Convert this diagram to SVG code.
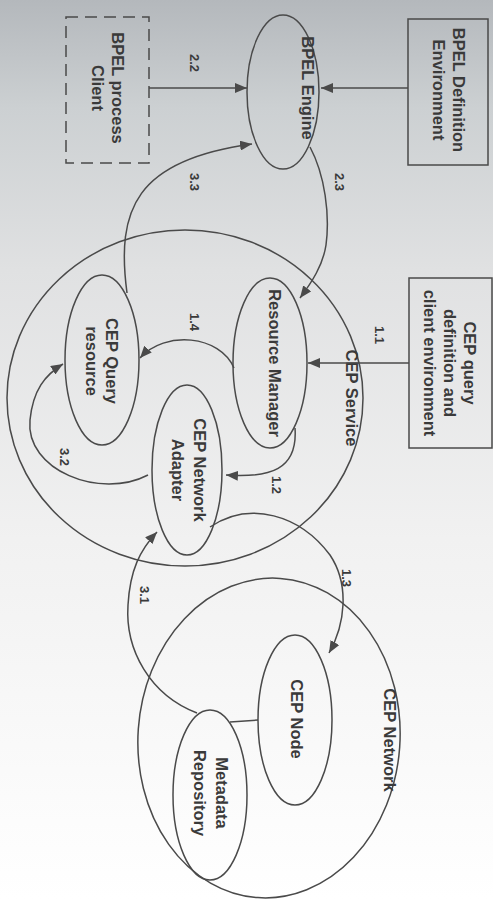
<svg xmlns="http://www.w3.org/2000/svg" width="493" height="899" viewBox="0 0 493 899">
<defs>
<linearGradient id="bg" x1="0" y1="0" x2="0" y2="1">
<stop offset="0" stop-color="#b4b8bc"/>
<stop offset="0.12" stop-color="#ccd0d2"/>
<stop offset="0.3" stop-color="#e0e1e2"/>
<stop offset="0.6" stop-color="#f1f1f1"/>
<stop offset="1" stop-color="#ffffff"/>
</linearGradient>
<marker id="ah" viewBox="0 0 12 10" refX="12" refY="5" markerWidth="12" markerHeight="10" markerUnits="userSpaceOnUse" orient="auto">
<path d="M0,0 L12,5 L0,10 Z" fill="#4a4a4a"/>
</marker>
<style>
.sh{fill:none;stroke:#4a4a4a;stroke-width:1.5}
.dash{fill:none;stroke:#4a4a4a;stroke-width:1.5;stroke-dasharray:12,7}
.t{font-family:"Liberation Sans",Arial,sans-serif;font-weight:bold;font-size:16.5px;fill:#3a3a3a;text-anchor:middle}
.l{font-family:"Liberation Sans",Arial,sans-serif;font-weight:bold;font-size:13px;fill:#3a3a3a;text-anchor:middle}
.c{fill:none;stroke:#4a4a4a;stroke-width:1.5;marker-end:url(#ah)}
.cn{fill:none;stroke:#4a4a4a;stroke-width:1.5}
</style>
</defs>
<rect x="0" y="0" width="493" height="899" fill="url(#bg)"/>

<g id="cep-service">
<ellipse class="sh" cx="185" cy="398" rx="178" ry="168"/>
<text class="t" transform="translate(352,398) rotate(90)" dy="0.35em">CEP Service</text>
</g>
<g id="cep-network">
<ellipse class="sh" cx="269" cy="738" rx="131" ry="160" transform="rotate(4 269 738)"/>
<text class="t" transform="translate(390,740) rotate(90)" dy="0.35em">CEP Network</text>
</g>

<g id="bpel-definition-environment">
<rect class="sh" x="408" y="19" width="80" height="146"/>
<text class="t" transform="translate(449,90) rotate(90)"><tspan x="0" y="-10" dy="0.35em">BPEL Definition</tspan><tspan x="0" y="10" dy="0.35em">Environment</tspan></text>
</g>
<g id="bpel-engine">
<ellipse class="sh" cx="283" cy="92" rx="36" ry="77"/>
<text class="t" transform="translate(308,88) rotate(90)" dy="0.35em">BPEL Engine</text>
</g>
<g id="bpel-process-client">
<rect class="dash" x="66" y="17" width="83" height="146"/>
<text class="t" transform="translate(108,88) rotate(90)"><tspan x="0" y="-10" dy="0.35em">BPEL process</tspan><tspan x="0" y="10" dy="0.35em">Client</tspan></text>
</g>
<g id="cep-query-definition">
<rect class="sh" x="409" y="278" width="83" height="170"/>
<text class="t" transform="translate(450,363) rotate(90)"><tspan x="0" y="-20" dy="0.35em">CEP query</tspan><tspan x="0" y="0" dy="0.35em">definition and</tspan><tspan x="0" y="20" dy="0.35em">client environment</tspan></text>
</g>
<g id="resource-manager">
<ellipse class="sh" cx="270" cy="363" rx="37" ry="85"/>
<text class="t" transform="translate(275,363) rotate(90)" dy="0.35em">Resource Manager</text>
</g>
<g id="cep-query-resource">
<ellipse class="sh" cx="102" cy="360" rx="37" ry="85"/>
<text class="t" transform="translate(102,361) rotate(90)"><tspan x="0" y="-10" dy="0.35em">CEP Query</tspan><tspan x="0" y="10" dy="0.35em">resource</tspan></text>
</g>
<g id="cep-network-adapter">
<ellipse class="sh" cx="187" cy="470" rx="35" ry="85"/>
<text class="t" transform="translate(189,470) rotate(90)"><tspan x="0" y="-11" dy="0.35em">CEP Network</tspan><tspan x="0" y="11" dy="0.35em">Adapter</tspan></text>
</g>
<g id="cep-node">
<ellipse class="sh" cx="295" cy="720" rx="37" ry="85"/>
<text class="t" transform="translate(297,719) rotate(90)" dy="0.35em">CEP Node</text>
</g>
<g id="metadata-repository">
<ellipse class="sh" cx="210" cy="795" rx="37" ry="85"/>
<text class="t" transform="translate(211,793) rotate(90)"><tspan x="0" y="-11" dy="0.35em">Metadata</tspan><tspan x="0" y="11" dy="0.35em">Repository</tspan></text>
</g>

<g id="connectors">
<path class="c" d="M408,88 L321,88"/>
<path class="c" d="M149,88 L247,88"/>
<path class="c" d="M310,147 C325,175 330,215 326,245 C323,265 312,282 300,298"/>
<path class="c" d="M127,293 C116,210 135,160 252,144"/>
<path class="c" d="M409,363 L308,363"/>
<path class="c" d="M234,368 C220,335 165,330 140,358"/>
<path class="c" d="M295,428 C298,470 270,478 226,475"/>
<path class="c" d="M148,475 C100,500 25,470 30,420 C33,390 45,375 63,364"/>
<path class="c" d="M210,527 C250,500 300,515 330,555 C350,585 345,625 329,653"/>
<path class="c" d="M197,713 C150,695 125,650 128,605 C130,570 140,550 157,532"/>
<path class="cn" d="M230,722 L258,720"/>
<text class="l" transform="translate(195,63) rotate(90)" dy="0.35em">2.2</text>
<text class="l" transform="translate(195,182) rotate(90)" dy="0.35em">3.3</text>
<text class="l" transform="translate(340,182) rotate(90)" dy="0.35em">2.3</text>
<text class="l" transform="translate(380,335) rotate(90)" dy="0.35em">1.1</text>
<text class="l" transform="translate(195,322) rotate(90)" dy="0.35em">1.4</text>
<text class="l" transform="translate(277,485) rotate(90)" dy="0.35em">1.2</text>
<text class="l" transform="translate(65,457) rotate(90)" dy="0.35em">3.2</text>
<text class="l" transform="translate(347,578) rotate(90)" dy="0.35em">1.3</text>
<text class="l" transform="translate(145,595) rotate(90)" dy="0.35em">3.1</text>
</g>
</svg>
